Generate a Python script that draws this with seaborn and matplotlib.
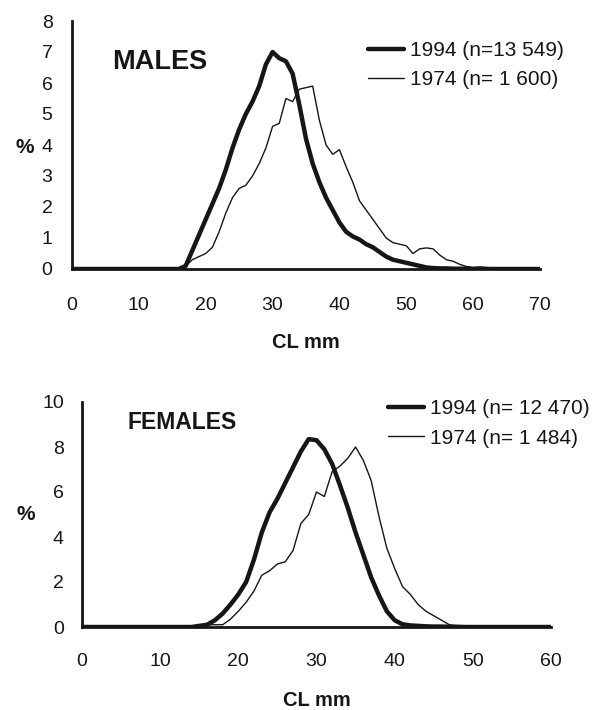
import numpy as np
import pandas as pd
import matplotlib
matplotlib.use('Agg')
import matplotlib.pyplot as plt
import seaborn as sns

# carapace length classes (mm)
cl_males = list(range(0, 71))
cl_females = list(range(0, 61))

# length frequency (%)
males_1994 = [0] * 17 + [
    0.1, 0.6, 1.1, 1.6, 2.1, 2.6, 3.2, 3.9, 4.5, 5.0,     # 17-26
    5.4, 5.9, 6.6, 7.0, 6.8, 6.7, 6.3, 5.3, 4.2, 3.4,     # 27-36
    2.8, 2.3, 1.9, 1.5, 1.2, 1.05, 0.95, 0.8, 0.7, 0.55,  # 37-46
    0.4, 0.3, 0.25, 0.2, 0.15, 0.1, 0.05, 0.03, 0.02, 0.02,  # 47-56
    0.01, 0.01, 0.01, 0.0] + [0] * 10
males_1974 = [0] * 17 + [
    0.1, 0.3, 0.4, 0.5, 0.7, 1.2, 1.8, 2.3, 2.6, 2.7,     # 17-26
    3.0, 3.4, 3.9, 4.6, 4.7, 5.5, 5.4, 5.8, 5.85, 5.9,    # 27-36
    4.8, 4.0, 3.7, 3.85, 3.3, 2.8, 2.2, 1.9, 1.6, 1.3,    # 37-46
    1.0, 0.85, 0.8, 0.75, 0.5, 0.65, 0.68, 0.65, 0.45, 0.3,  # 47-56
    0.25, 0.15, 0.08, 0.05, 0.07, 0.05, 0.02, 0.01] + [0] * 6

females_1994 = [0] * 15 + [
    0.05, 0.1, 0.3, 0.6, 1.0, 1.45, 2.0, 3.0, 4.2, 5.1,   # 15-24
    5.7, 6.4, 7.1, 7.8, 8.35, 8.3, 7.9, 7.25, 6.3, 5.3,   # 25-34
    4.2, 3.2, 2.2, 1.4, 0.7, 0.3, 0.12, 0.07, 0.05, 0.03,  # 35-44
    0.02, 0.02, 0.01, 0.01, 0.0] + [0] * 11
females_1974 = [0] * 15 + [
    0.05, 0.1, 0.1, 0.1, 0.35, 0.7, 1.1, 1.6, 2.3, 2.5,   # 15-24
    2.8, 2.9, 3.4, 4.6, 5.0, 6.0, 5.8, 6.9, 7.15, 7.5,    # 25-34
    8.0, 7.4, 6.5, 4.9, 3.5, 2.6, 1.8, 1.45, 1.0, 0.7,    # 35-44
    0.5, 0.3, 0.1, 0.05, 0.02] + [0] * 11

labels_males = ['1994 (n=13 549)', '1974 (n= 1 600)']
labels_females = ['1994 (n= 12 470)', '1974 (n= 1 484)']

sns.set_style('white')
plt.rcParams['font.family'] = ['Liberation Sans', 'DejaVu Sans']

ink = '#161616'
W, H = 603, 710
fig = plt.figure(figsize=(W / 100, H / 100), dpi=100)


def px_axes(left, right, top, bottom):
    return fig.add_axes([left / W, 1 - bottom / H, (right - left) / W, (bottom - top) / H])


def draw_panel(ax, x, y94, y74, labels, title, xmax, ymax, ystep,
               title_xy, title_size, leg_xy, xpad, ypad, ylab_xy, xlab_y):
    df = pd.DataFrame({'CL': list(x) * 2,
                       'pct': list(y94) + list(y74),
                       'series': [labels[0]] * len(x) + [labels[1]] * len(x)})
    sns.lineplot(data=df, x='CL', y='pct', hue='series', size='series',
                 sizes={labels[0]: 3.2, labels[1]: 1.0},
                 palette={labels[0]: ink, labels[1]: ink}, ax=ax, legend=True,
                 solid_joinstyle='round', solid_capstyle='round')
    ax.set_xlim(0, xmax)
    ax.set_ylim(0, ymax)
    ax.set_xticks(np.arange(0, xmax + 1, 10))
    ax.set_yticks(np.arange(0, ymax + 0.1, ystep))
    for side in ['top', 'right']:
        ax.spines[side].set_visible(False)
    for side in ['left', 'bottom']:
        ax.spines[side].set_linewidth(2.0)
        ax.spines[side].set_color(ink)
    ax.tick_params(axis='x', direction='out', length=6, width=2, color=ink,
                   labelsize=14, pad=xpad, labelcolor=ink)
    ax.tick_params(axis='y', direction='out', length=6, width=2, color=ink,
                   labelsize=14, pad=ypad, labelcolor=ink)
    ax.set_xlabel('CL mm', fontsize=14.5, fontweight='bold', color=ink)
    ax.xaxis.set_label_coords(0.5, xlab_y)
    ax.set_ylabel('%', fontsize=15, fontweight='bold', rotation=0, color=ink,
                  va='center', ha='center')
    ax.yaxis.set_label_coords(*ylab_xy)
    ax.text(title_xy[0], title_xy[1], title, transform=ax.transAxes,
            fontsize=title_size, fontweight='bold', color=ink, va='center', ha='left')
    leg = ax.legend(loc='upper left', bbox_to_anchor=leg_xy, frameon=False,
                    fontsize=15, handlelength=1.75, handletextpad=0.3,
                    labelspacing=0.5, borderpad=0, borderaxespad=0)
    for t in leg.get_texts():
        t.set_color(ink)
    ax.set_facecolor('white')


ax1 = px_axes(72, 540, 21, 269)
draw_panel(ax1, cl_males, males_1994, males_1974, labels_males, 'MALES',
           70, 8, 1, (0.085, 0.835), 19.5, (0.632, 0.92), 14, 8,
           (-0.1, 0.49), -0.258)

ax2 = px_axes(82, 551, 402, 627)
draw_panel(ax2, cl_females, females_1994, females_1974, labels_females, 'FEMALES',
           60, 10, 2, (0.096, 0.911), 16.5, (0.652, 1.012), 13, 7,
           (-0.12, 0.5), -0.284)

fig.savefig('out.png', dpi=100, facecolor='white')
